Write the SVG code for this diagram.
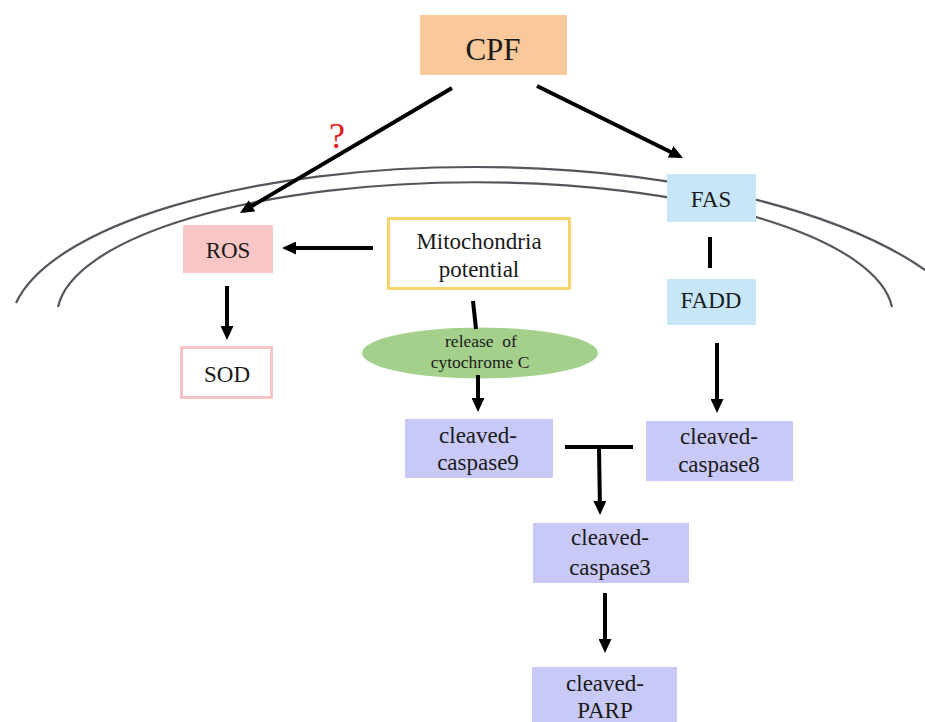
<svg xmlns="http://www.w3.org/2000/svg" width="925" height="722" viewBox="0 0 925 722" font-family="'Liberation Serif', 'Times New Roman', serif">
<defs>
<marker id="ah" markerUnits="userSpaceOnUse" markerWidth="14" markerHeight="13" refX="10" refY="6.5" orient="auto">
<path d="M0,0 L14,6.5 L0,13 z" fill="#000"/>
</marker>
<style>
text{font-family:'Liberation Serif','Times New Roman',serif;fill:#1a1a1a;text-anchor:middle}
.t23{font-size:23px}
.t17{font-size:17.5px}
.ln{stroke:#000;stroke-width:4;fill:none}
.ar{stroke:#000;stroke-width:4;fill:none;marker-end:url(#ah)}
.mem{stroke:#55555e;stroke-width:2.2;fill:none}
.casp{fill:#c9c9f8}
.blue{fill:#c7e7f8}
</style>
</defs>
<rect width="925" height="722" fill="#fff"/>
<g id="membrane">
<path class="mem" d="M16,303 A465,162 0 0 1 475,167 A520,206 0 0 1 945,285"/>
<path class="mem" d="M58,307 A418,134 0 0 1 892,307"/>
</g>
<g id="cpf">
<rect x="420" y="15" width="147" height="60" fill="#f9c89b"/>
<text x="493" y="60" font-size="31">CPF</text>
</g>
<g id="question">
<text x="337" y="148" font-size="36" style="fill:#e01b1b">?</text>
</g>
<g id="ros">
<rect x="183" y="225" width="90" height="48" fill="#f9c6c6"/>
<text class="t23" x="228" y="258">ROS</text>
</g>
<g id="sod">
<rect x="181.5" y="347.5" width="90" height="50" fill="#fff" stroke="#f7c5c5" stroke-width="3"/>
<text class="t23" x="227" y="382">SOD</text>
</g>
<g id="mito">
<rect x="388.5" y="218.5" width="181" height="70" fill="#fff" stroke="#f5d46e" stroke-width="3"/>
<text class="t23" x="479" y="249">Mitochondria</text>
<text class="t23" x="479" y="277">potential</text>
</g>
<g id="cytc">
<ellipse cx="480" cy="353" rx="118" ry="25.5" fill="#a4d08c"/>
<text class="t17" x="481" y="347" xml:space="preserve">release  of</text>
<text class="t17" x="480" y="368">cytochrome C</text>
</g>
<g id="fas">
<rect x="667" y="174" width="89" height="48" class="blue"/>
<text class="t23" x="711" y="207">FAS</text>
</g>
<g id="fadd">
<rect x="667" y="279" width="89" height="46" class="blue"/>
<text class="t23" x="711" y="308">FADD</text>
</g>
<g id="casp9">
<rect x="405" y="419" width="148" height="59" class="casp"/>
<text class="t23" x="478" y="443">cleaved-</text>
<text class="t23" x="478" y="470">caspase9</text>
</g>
<g id="casp8">
<rect x="646" y="421" width="147" height="60" class="casp"/>
<text class="t23" x="719" y="444">cleaved-</text>
<text class="t23" x="719" y="472">caspase8</text>
</g>
<g id="casp3">
<rect x="533" y="523" width="156" height="60" class="casp"/>
<text class="t23" x="610" y="545">cleaved-</text>
<text class="t23" x="610" y="575">caspase3</text>
</g>
<g id="parp">
<rect x="532" y="667" width="145" height="60" class="casp"/>
<text class="t23" x="605" y="691">cleaved-</text>
<text class="t23" x="605" y="718">PARP</text>
</g>
<g id="connectors">
<line class="ar" x1="452" y1="88" x2="243.4" y2="211"/>
<line class="ar" x1="537" y1="86" x2="679.4" y2="156.2"/>
<line class="ar" x1="373" y1="248" x2="286" y2="248"/>
<line class="ar" x1="227" y1="286" x2="227" y2="336"/>
<line class="ln" x1="473" y1="301" x2="476" y2="329"/>
<line class="ar" x1="478" y1="375" x2="478" y2="408"/>
<line class="ln" x1="710" y1="237" x2="710" y2="268"/>
<line class="ar" x1="717" y1="343" x2="717" y2="409"/>
<line class="ln" x1="565" y1="447" x2="633" y2="447"/>
<line class="ar" x1="599" y1="447" x2="600" y2="511"/>
<line class="ar" x1="605" y1="593" x2="605" y2="649"/>
</g>
</svg>
